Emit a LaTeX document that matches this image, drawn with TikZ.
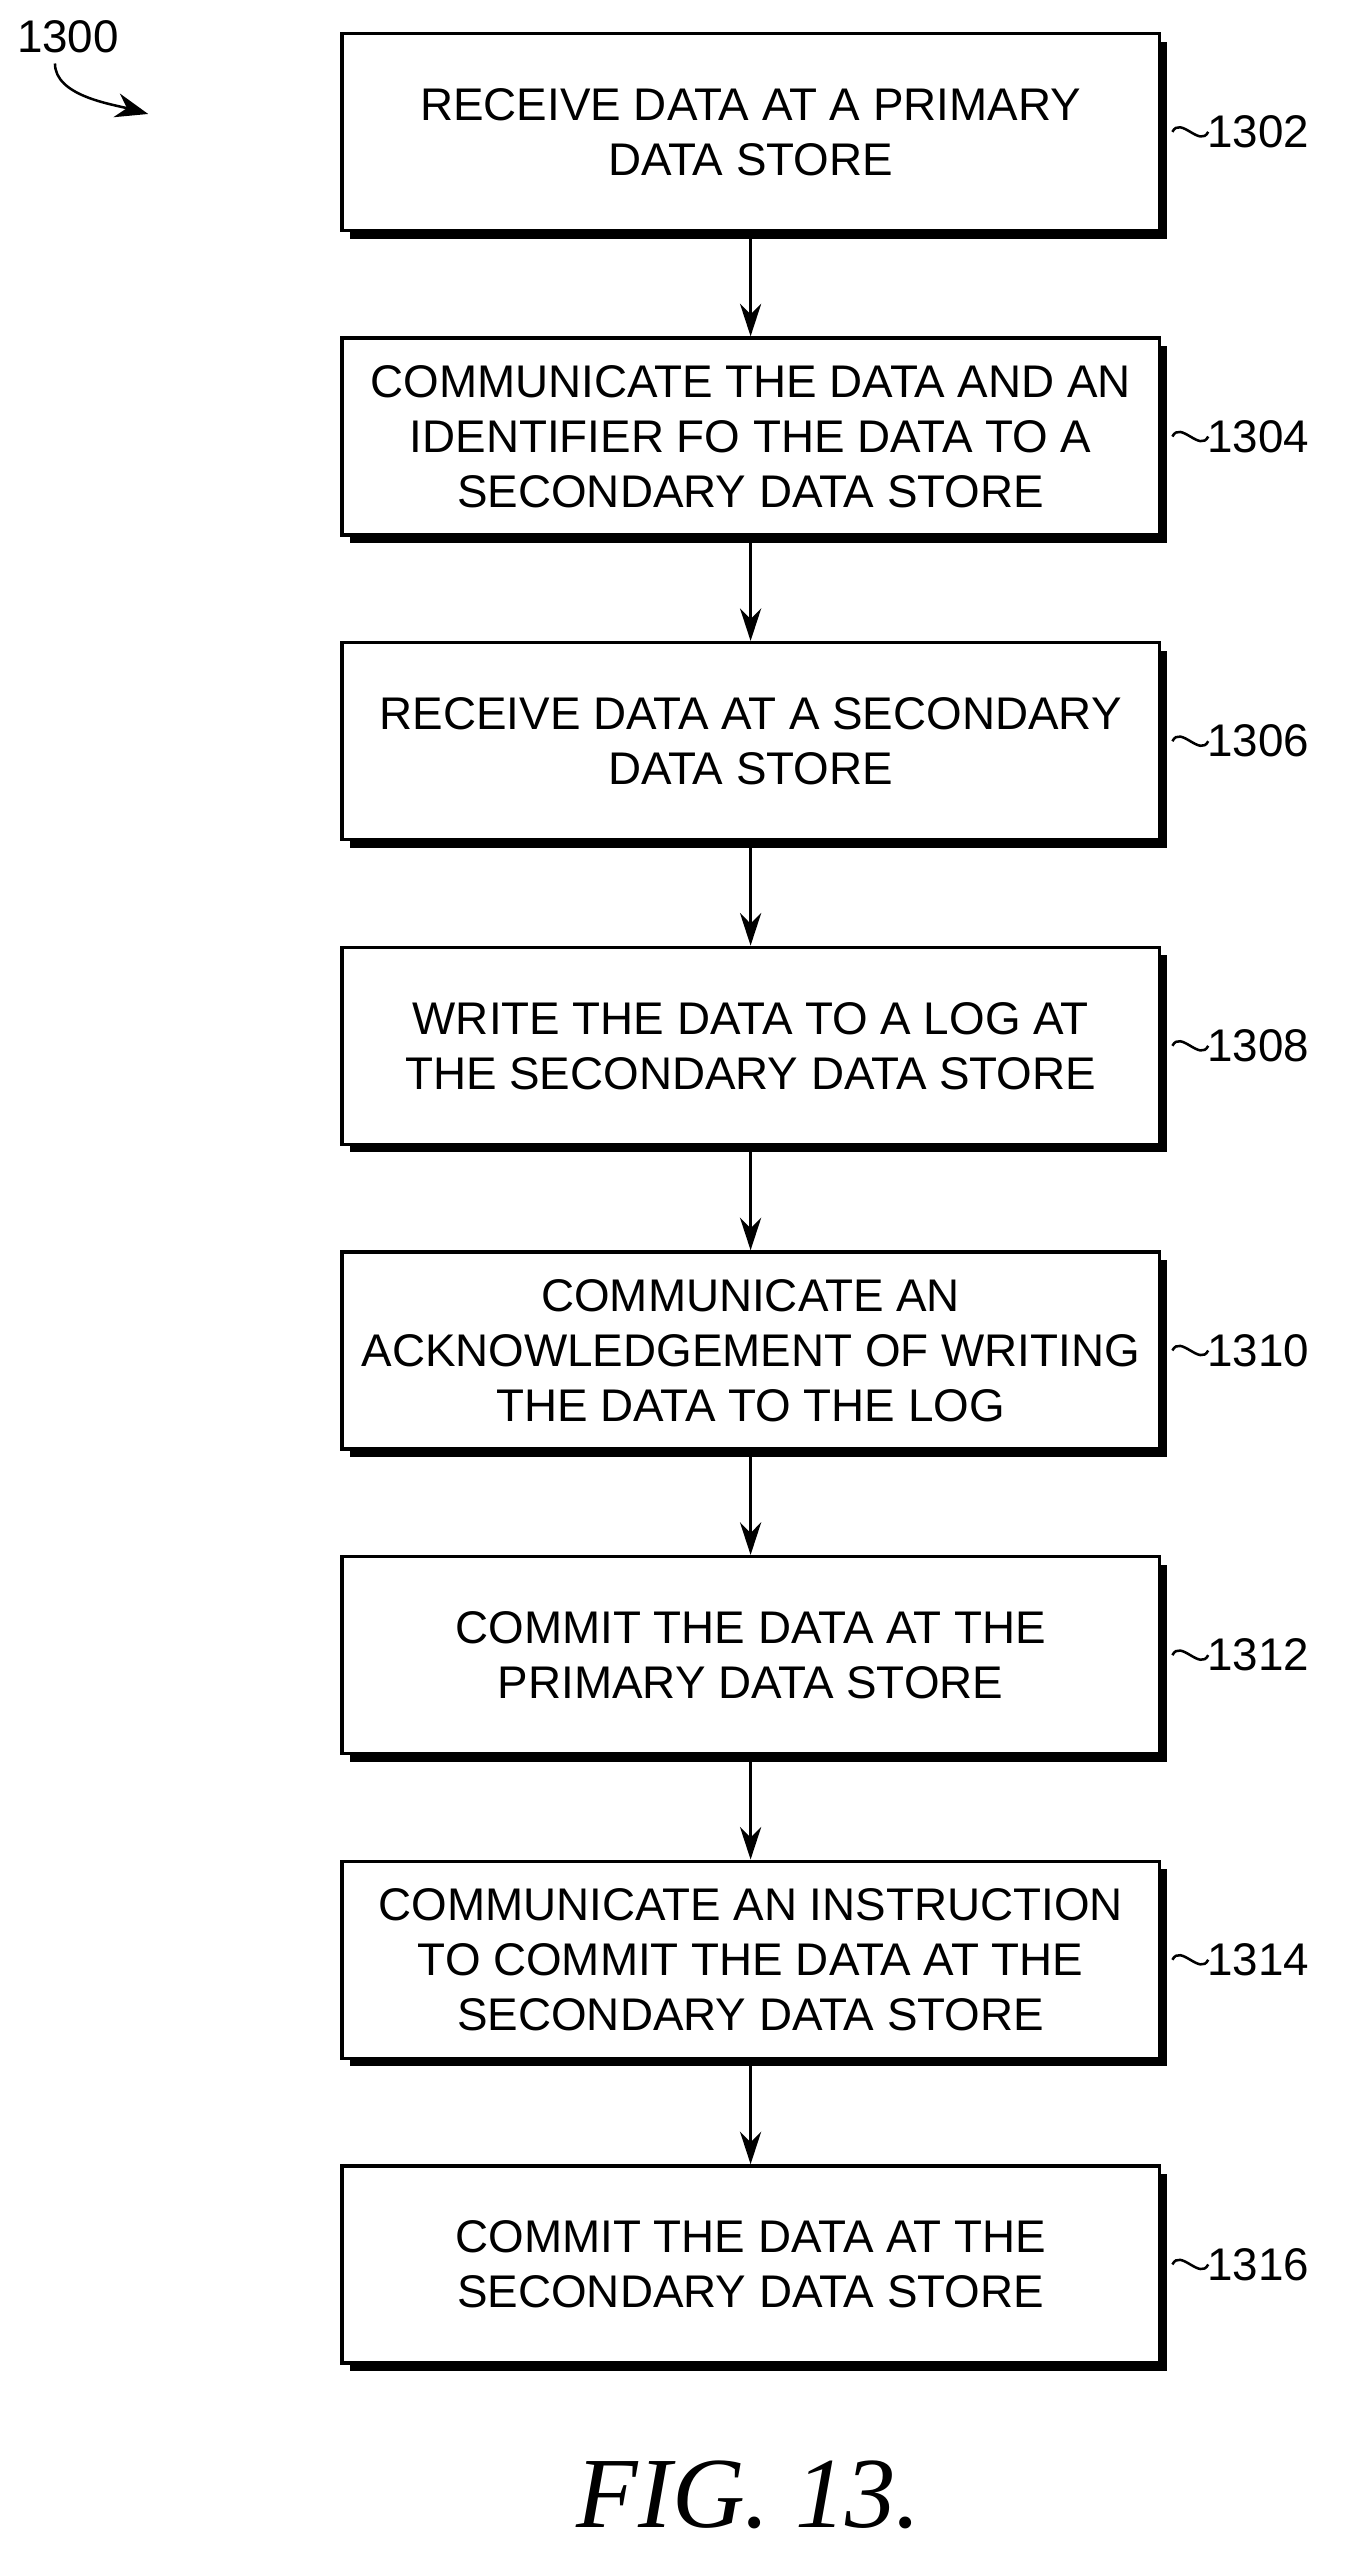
\documentclass[tikz,border=0pt]{standalone}
\usepackage{fontspec}
\setmainfont{Liberation Sans}
\newfontfamily\figfont{Liberation Serif}
\usetikzlibrary{positioning,arrows.meta,shadows}

\tikzset{
	stepbox/.style = {rectangle, draw, line width=3pt, fill=white,
		minimum width=25.1cm, minimum height=6.05cm, align=center,
		font=\fontsize{40}{48}\selectfont,
		drop shadow={shadow xshift=0.25cm, shadow yshift=-0.25cm, fill=black, opacity=1}},
	ref/.style = {font=\fontsize{40}{48}\selectfont, anchor=west},
	flow/.style = {line width=2.6pt, -{Stealth[length=1cm, width=0.65cm]}},
	wave/.style = {line width=2.2pt}
}

\begin{document}
\begin{tikzpicture}[node distance=3.2cm]
	\useasboundingbox (0,0) rectangle (41.5,-78.4);

	% Steps
	\node[stepbox] (s1) at (23.05,-4.05) {RECEIVE DATA AT A PRIMARY\\DATA STORE};
	\node[stepbox, below=of s1] (s2) {COMMUNICATE THE DATA AND AN\\IDENTIFIER FO THE DATA TO A\\SECONDARY DATA STORE};
	\node[stepbox, below=of s2] (s3) {RECEIVE DATA AT A SECONDARY\\DATA STORE};
	\node[stepbox, below=of s3] (s4) {WRITE THE DATA TO A LOG AT\\THE SECONDARY DATA STORE};
	\node[stepbox, below=of s4] (s5) {COMMUNICATE AN\\ACKNOWLEDGEMENT OF WRITING\\THE DATA TO THE LOG};
	\node[stepbox, below=of s5] (s6) {COMMIT THE DATA AT THE\\PRIMARY DATA STORE};
	\node[stepbox, below=of s6] (s7) {COMMUNICATE AN INSTRUCTION\\TO COMMIT THE DATA AT THE\\SECONDARY DATA STORE};
	\node[stepbox, below=of s7] (s8) {COMMIT THE DATA AT THE\\SECONDARY DATA STORE};

	% Connections
	\foreach \a/\b in {s1/s2, s2/s3, s3/s4, s4/s5, s5/s6, s6/s7, s7/s8}
		\draw[flow] (\a) -- (\b);

	% Reference numerals
	\foreach \s/\n in {s1/1302, s2/1304, s3/1306, s4/1308, s5/1310, s6/1312, s7/1314, s8/1316} {
		\node[ref] (l\n) at ([xshift=1.3cm]\s.east) {\n};
		\draw[wave] ([xshift=0.35cm]\s.east) .. controls +(0.25,0.5) and +(-0.25,-0.5) .. ([xshift=0.15cm]l\n.west);
	}

	% Figure number
	\node[ref, anchor=south west] (fig) at (0.4,-1.75) {1300};
	\coordinate (figend) at (4.55,-3.5);
	\draw[line width=2.2pt, -{Stealth[length=1cm, width=0.75cm]}] ([xshift=-0.4cm,yshift=-0.2cm]fig.south) .. controls +(0,-1) and +(-1.1,0.3) .. (figend);

	\node[font=\figfont\fontsize{88}{92}\selectfont\itshape] (caption) at (23,-76.6) {FIG. 13.};
\end{tikzpicture}
\end{document}
